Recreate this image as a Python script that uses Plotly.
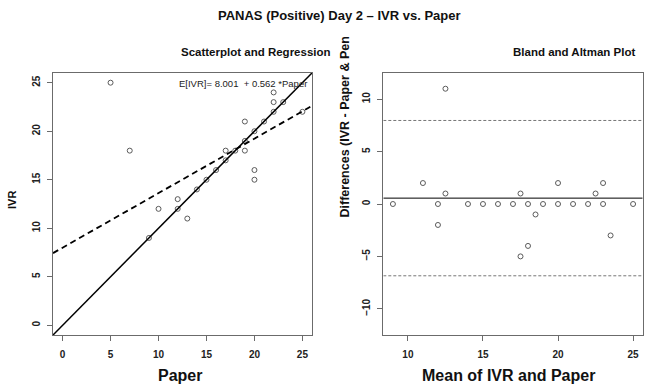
import plotly.graph_objects as go

# ---------------- data ----------------
paper = [5, 7, 9, 10, 12, 12, 13, 14, 15, 16, 17, 17, 18, 19, 19, 19, 20, 20, 20, 21, 22, 22, 22, 23, 25]
ivr   = [25, 18, 9, 12, 13, 12, 11, 14, 15, 16, 17, 18, 18, 19, 21, 18, 20, 16, 15, 21, 22, 23, 24, 23, 22]

reg_intercept = 8.001
reg_slope = 0.562

ba_mean = [9, 11, 12, 12, 12.5, 12.5, 14, 15, 16, 17, 17.5, 17.5, 18, 18, 18.5, 19, 20, 20, 21, 22, 22.5, 23, 23, 23.5, 25]
ba_diff = [0, 2, 0, -2, 11, 1, 0, 0, 0, 0, 1, -5, 0, -4, -1, 0, 2, 0, 0, 0, 1, 2, 0, -3, 0]
ba_center = 0.56
ba_upper = 7.97
ba_lower = -6.85

left_ticks = [0, 5, 10, 15, 20, 25]
right_xticks = [10, 15, 20, 25]
right_yticks = [-10, -5, 0, 5, 10]

W, H = 645, 389
def px(x): return x / W
def py(y): return 1 - y / H

L_RANGE_X = [-1, 26]
L_RANGE_Y = [-1, 26]
R_RANGE_X = [8.36, 25.64]
R_RANGE_Y = [-12.5, 12.5]

FONT = "Liberation Sans, Arial, sans-serif"
BOX = "#6b6b6b"
PT = "#5a5a5a"

fig = go.Figure()

# left scatter
fig.add_trace(go.Scatter(x=paper, y=ivr, mode="markers", xaxis="x", yaxis="y",
                         marker=dict(symbol="circle-open", size=5, color=PT, line=dict(width=1, color=PT)),
                         showlegend=False, hoverinfo="skip"))
# identity line
fig.add_trace(go.Scatter(x=L_RANGE_X, y=L_RANGE_X, mode="lines", xaxis="x", yaxis="y",
                         line=dict(color="black", width=1.5), showlegend=False, hoverinfo="skip"))
# regression line
fig.add_trace(go.Scatter(x=L_RANGE_X, y=[reg_intercept + reg_slope * v for v in L_RANGE_X],
                         mode="lines", xaxis="x", yaxis="y",
                         line=dict(color="black", width=1.8, dash="6px,4px"), showlegend=False, hoverinfo="skip"))

# right BA plot
fig.add_trace(go.Scatter(x=ba_mean, y=ba_diff, mode="markers", xaxis="x2", yaxis="y2",
                         marker=dict(symbol="circle-open", size=5, color=PT, line=dict(width=1, color=PT)),
                         showlegend=False, hoverinfo="skip"))
fig.add_trace(go.Scatter(x=R_RANGE_X, y=[ba_center, ba_center], mode="lines", xaxis="x2", yaxis="y2",
                         line=dict(color="black", width=1), showlegend=False, hoverinfo="skip"))
for lv in (ba_upper, ba_lower):
    fig.add_trace(go.Scatter(x=R_RANGE_X, y=[lv, lv], mode="lines", xaxis="x2", yaxis="y2",
                             line=dict(color="#777777", width=1, dash="3px,2px"), showlegend=False, hoverinfo="skip"))

axis_common = dict(showline=True, mirror=True, linecolor=BOX, linewidth=1, ticks="outside",
                   ticklen=5, tickcolor=BOX, tickwidth=1, showgrid=False, zeroline=False,
                   tickfont=dict(family=FONT, size=10, color="#222", weight="bold"), fixedrange=True)

fig.update_layout(
    width=W, height=H, margin=dict(l=0, r=0, t=0, b=0),
    paper_bgcolor="white", plot_bgcolor="white",
    xaxis=dict(domain=[px(53), px(312)], range=L_RANGE_X, tickvals=left_ticks,
               ticklabelstandoff=5, anchor="y", **axis_common),
    yaxis=dict(domain=[py(335), py(73)], range=L_RANGE_Y, tickvals=left_ticks,
               tickangle=-90, ticklabelstandoff=3, anchor="x", **axis_common),
    xaxis2=dict(domain=[px(383.3), px(642.7)], range=R_RANGE_X, tickvals=right_xticks,
                ticklabelstandoff=5, anchor="y2", **axis_common),
    yaxis2=dict(domain=[py(335), py(73)], range=R_RANGE_Y, tickvals=right_yticks,
                tickangle=-90, ticklabelstandoff=3, anchor="x2", **axis_common),
)

def ann(text, x, y, size, bold=True, xanchor="center", yanchor="middle", angle=0, color="#111"):
    fig.add_annotation(text=text, x=px(x), y=py(y), xref="paper", yref="paper",
                       xanchor=xanchor, yanchor=yanchor, showarrow=False, textangle=angle,
                       font=dict(family=FONT, size=size, color=color, weight="bold" if bold else "normal"))

ann("PANAS (Positive) Day 2 – IVR vs. Paper", 339, 15, 13)
ann("Scatterplot and Regression", 256, 52, 11.5)
ann("Bland and Altman Plot", 574, 52, 11.5)
ann("E[IVR]= 8.001  + 0.562 *Paper", 309, 83, 9.5, bold=False, xanchor="right", color="#222")
ann("Paper", 180, 375, 16)
ann("Mean of IVR and Paper", 508, 375, 16)
ann("IVR", 12, 200, 11, angle=-90)
ann("Differences (IVR - Paper & Pen", 344, 220, 12.5, angle=-90, yanchor="bottom")

fig.write_html("out.html")
